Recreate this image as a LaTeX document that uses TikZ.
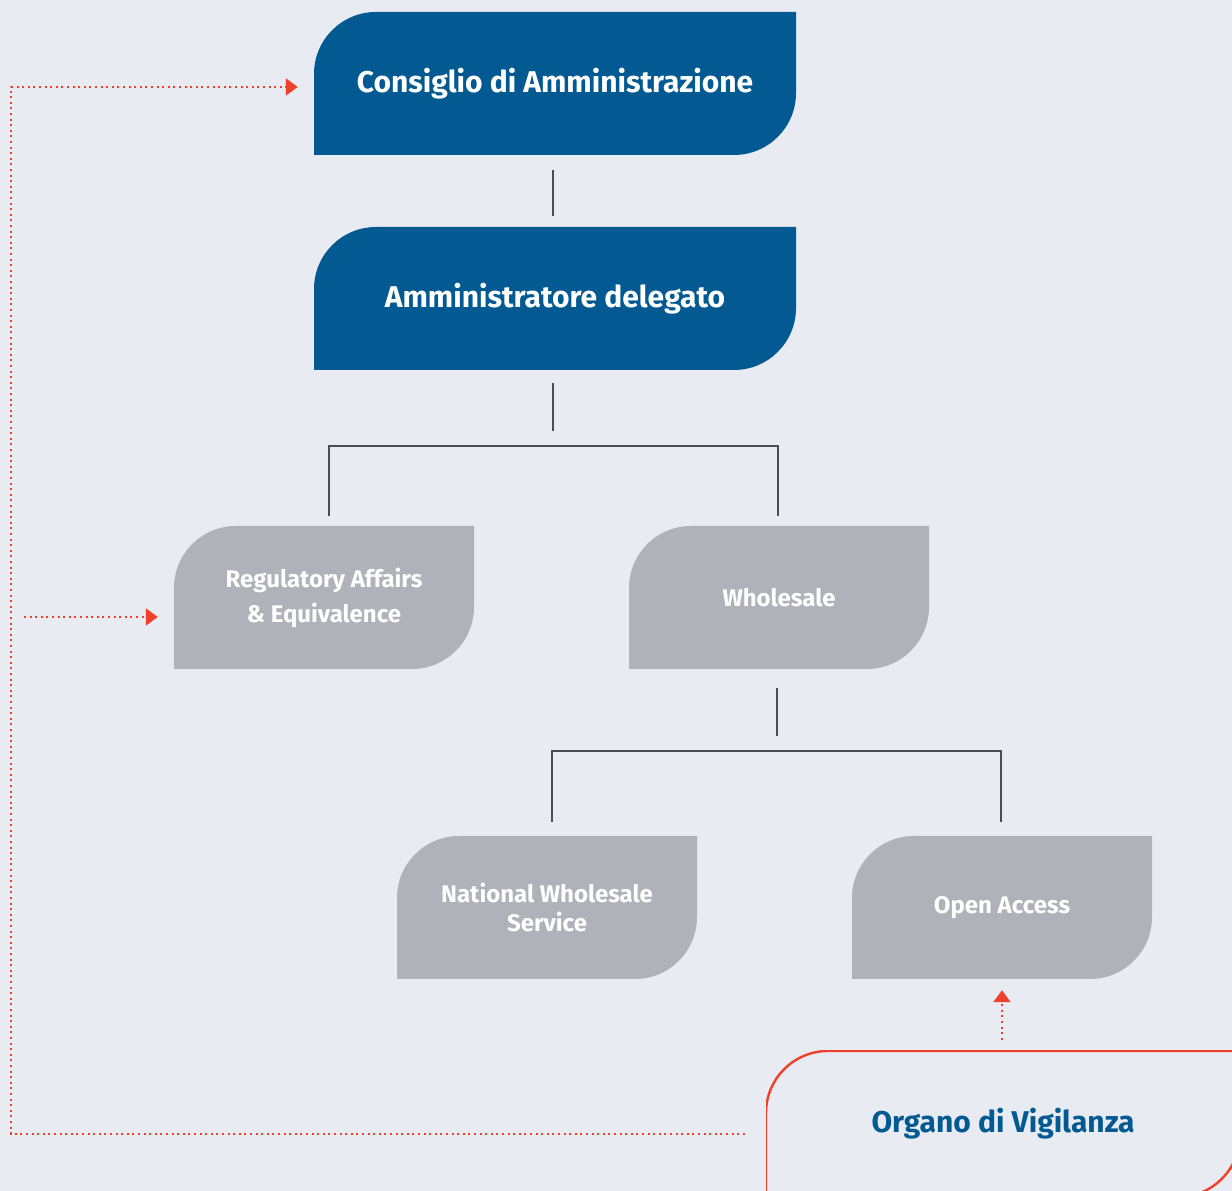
\documentclass[tikz,border=0pt]{standalone}
\usepackage{fontspec}
\setmainfont{Fira Sans}
\usepackage{tikz}
\usetikzlibrary{positioning,arrows.meta,calc}

\definecolor{pagebg}{HTML}{E8EBF2}
\definecolor{boardblue}{HTML}{035A92}
\definecolor{unitgray}{HTML}{B0B2BA}
\definecolor{vigred}{HTML}{EE402B}
\definecolor{linegray}{HTML}{4B4B52}

\tikzset{
  leaf/.style={path picture={
    \fill[#1] (path picture bounding box.south west)
      -- ([yshift=-62pt]path picture bounding box.north west)
      arc[start angle=180,end angle=90,radius=62pt]
      -- (path picture bounding box.north east)
      -- ([yshift=62pt]path picture bounding box.south east)
      arc[start angle=0,end angle=-90,radius=62pt] -- cycle;}},
  leafline/.style={path picture={
    \draw[#1, line width=2.4pt] (path picture bounding box.south west)
      -- ([yshift=-62pt]path picture bounding box.north west)
      arc[start angle=180,end angle=90,radius=62pt]
      -- (path picture bounding box.north east)
      -- ([yshift=62pt]path picture bounding box.south east)
      arc[start angle=0,end angle=-90,radius=62pt] -- cycle;}}
}

\begin{document}
\begin{tikzpicture}[x=1pt, y=1pt,
    topbox/.style={rectangle, leaf=boardblue, minimum width=482pt, minimum height=143pt,
      text=white, font=\fontsize{30}{34}\selectfont\bfseries, align=center},
    unitbox/.style={rectangle, leaf=unitgray, minimum width=300pt, minimum height=143pt,
      text=white, font=\fontsize{24}{35}\selectfont\bfseries, align=center},
    vigbox/.style={rectangle, leafline=vigred, minimum width=474pt, minimum height=146pt,
      text=boardblue, font=\fontsize{30}{34}\selectfont\bfseries, align=center},
    conn/.style={draw=linegray, line width=1.5pt},
    dotlink/.style={draw=vigred, line width=2pt, dash pattern=on 2pt off 3.6pt,
      -{Triangle[width=17pt,length=12pt]}}
]

% Page
\fill[pagebg] (0,0) rectangle (1232,1191);
\useasboundingbox (0,0) rectangle (1232,1191);

% Board and CEO
\node[topbox] (cda) at (555,1107.5) {Consiglio di Amministrazione};
\node[topbox] (ad) at (555,892.5) {Amministratore delegato};

% Units
\node[unitbox] (rae) at (324,593.5) {Regulatory Affairs\\ \& Equivalence};
\node[unitbox] (whs) at (779,593.5) {Wholesale};
\node[unitbox, font=\fontsize{24}{29}\selectfont\bfseries] (nws) at (547,283.5) {National Wholesale\\Service};
\node[unitbox] (oa) at (1002,283.5) {Open Access};

% Supervisory body
\node[vigbox] (odv) at (1003,67) {Organo di Vigilanza};

% Junctions
\coordinate (j1) at (553,745);
\coordinate (j2) at (777,440);
\coordinate (rail) at (11,0);
\coordinate (odvout) at ([yshift=-10pt]odv.west);
\coordinate (cdain) at ([yshift=-3.5pt]cda.west);
\coordinate (raein) at ([yshift=-19.5pt]rae.west);

% Hierarchy
\draw[conn, shorten <=15pt, shorten >=11pt] ([xshift=-2pt]cda.south) -- ([xshift=-2pt]ad.north);
\draw[conn, shorten <=13pt, shorten >=15pt] ([xshift=-2pt]ad.south) -- ([xshift=-2pt]ad.south |- j1);
\draw[conn, shorten <=10pt, shorten >=10pt] ([xshift=5pt]rae.north) |- (j1) -| ([xshift=-1pt]whs.north);
\draw[conn, shorten <=19pt, shorten >=15pt] ([xshift=-2pt]whs.south) -- ([xshift=-2pt]whs.south |- j2);
\draw[conn, shorten <=14pt, shorten >=14pt] ([xshift=5pt]nws.north) |- (j2) -| ([xshift=-1pt]oa.north);

% Supervision links
\draw[dotlink, shorten <=21pt, shorten >=16pt] (odvout) -- (rail |- odvout) -- (rail |- cdain) -- (cdain);
\draw[dotlink, shorten >=16pt] ([xshift=13pt]rail |- raein) -- (raein);
\draw[dotlink, shorten <=11pt, shorten >=11pt] (odv.north -| oa.south) -- (oa.south);

\end{tikzpicture}
\end{document}
